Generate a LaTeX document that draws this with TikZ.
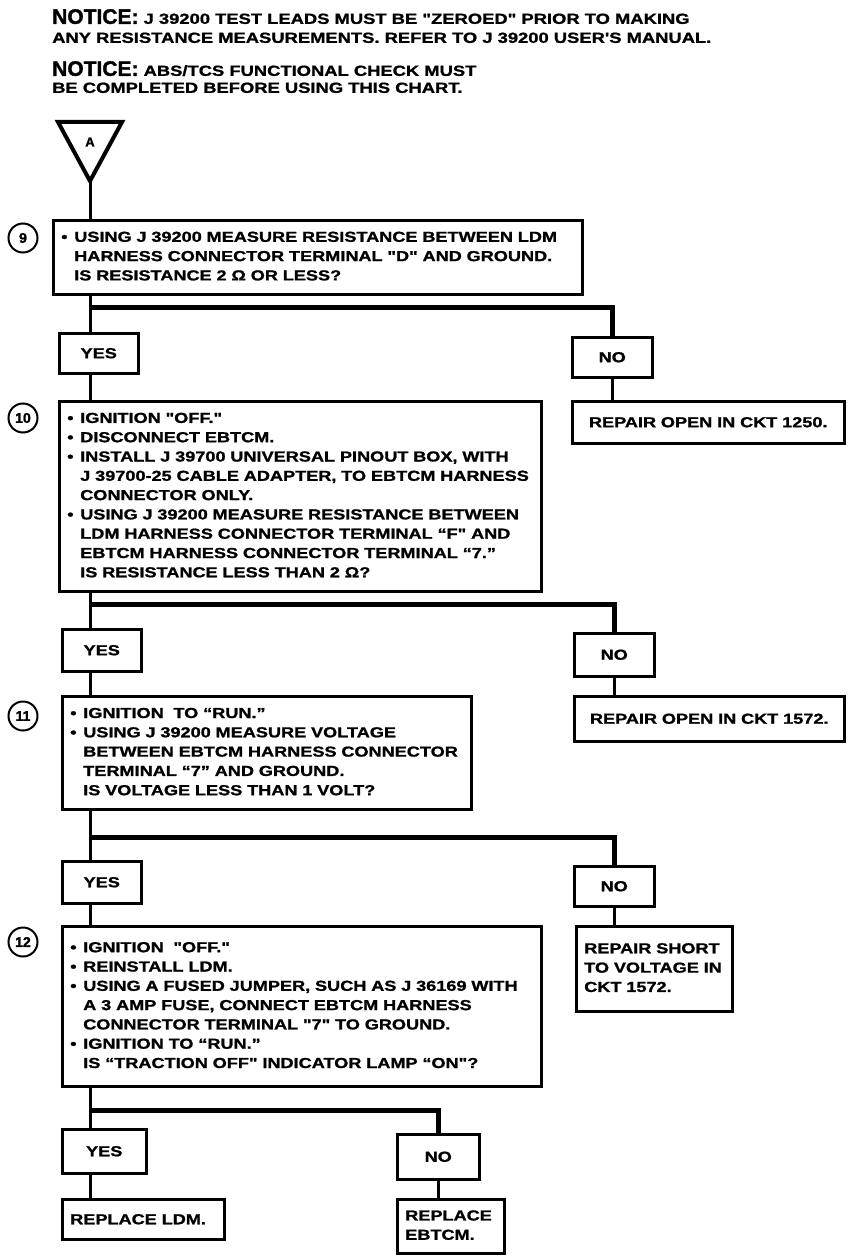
\documentclass[tikz,border=0pt]{standalone}
\usepackage{fontspec}
\newfontfamily\chartfont{Liberation Sans}[FakeStretch=1.25,
  BoldFeatures={FakeStretch=1.25,FakeBold=1.2}]
\newfontfamily\noticefont{Liberation Sans}[BoldFeatures={FakeBold=1.5}]
\usetikzlibrary{positioning,calc}
\tikzstyle{stepbox}=[draw,line width=2.5pt,rectangle,anchor=north west,
  inner xsep=8pt,inner ysep=0pt,align=left,
  font=\chartfont\bfseries\fontsize{14.5}{19.3}\selectfont]
\tikzstyle{repair}=[stepbox,align=center]
\tikzstyle{answer}=[draw,line width=2.5pt,rectangle,anchor=north west,
  inner sep=0pt,font=\chartfont\bfseries\fontsize{14.5}{19}\selectfont]
\tikzstyle{stepnum}=[draw,circle,line width=2pt,minimum size=29pt,inner sep=0pt,
  font=\noticefont\bfseries\fontsize{14}{16}\selectfont]
\tikzstyle{link}=[line width=3pt]
\tikzstyle{branch}=[line width=5pt]
\newcommand{\bul}{\makebox[13pt][l]{\textbullet}}
\newcommand{\ind}{\hspace*{13pt}}
\newcommand{\lines}[1]{\begin{tabular}{@{}l@{}}#1\end{tabular}}

\begin{document}
\begin{tikzpicture}[x=1pt,y=-1pt]
  \useasboundingbox (0,0) rectangle (864,1260);
  % notices
  \node[anchor=north west,inner sep=0pt,align=left,
    font=\chartfont\bfseries\fontsize{14.7}{19}\selectfont] (note1) at (52,9)
    {{\noticefont\fontsize{21}{19}\selectfont NOTICE:} J 39200 TEST LEADS MUST BE "ZEROED" PRIOR TO MAKING\\
     ANY RESISTANCE MEASUREMENTS. REFER TO J 39200 USER'S MANUAL.};
  \node[anchor=north west,inner sep=0pt,align=left,
    font=\chartfont\bfseries\fontsize{14.7}{17}\selectfont] (note2) at (52,61)
    {{\noticefont\fontsize{21}{17}\selectfont NOTICE:} ABS/TCS FUNCTIONAL CHECK MUST\\
     BE COMPLETED BEFORE USING THIS CHART.};

  % entry point
  \coordinate (Atip) at (90,181);
  \draw[line width=4pt,line join=miter] (58,122) -- (122,122) -- (Atip) -- cycle;
  \node[font=\noticefont\bfseries\fontsize{13}{14}\selectfont] (Alab) at (90,142) {A};

  % step 9
  \node[stepnum] (n9) at (23,238) {9};
  \node[stepbox,text width=513pt,minimum height=74pt] (b9) at (52,219)
    {\lines{\bul USING J 39200 MEASURE RESISTANCE BETWEEN LDM\\
      \ind HARNESS CONNECTOR TERMINAL "D" AND GROUND.\\
      \ind IS RESISTANCE 2 Ω OR LESS?}};
  \coordinate (j9) at (90,307);
  \node[answer,minimum width=79pt,minimum height=40pt] (yes1) at (58,332) {YES};
  \node[answer,minimum width=80pt,minimum height=40pt] (no1) at (571,336) {NO};
  \node[repair,text width=256pt,minimum height=42pt] (rep1) at (571,400)
    {REPAIR OPEN IN CKT 1250.};

  % step 10
  \node[stepnum] (n10) at (23,418) {10};
  \node[stepbox,text width=466pt,minimum height=190pt] (b10) at (58,400)
    {\lines{\bul IGNITION "OFF."\\
      \bul DISCONNECT EBTCM.\\
      \bul INSTALL J 39700 UNIVERSAL PINOUT BOX, WITH\\
      \ind J 39700-25 CABLE ADAPTER, TO EBTCM HARNESS\\
      \ind CONNECTOR ONLY.\\
      \bul USING J 39200 MEASURE RESISTANCE BETWEEN\\
      \ind LDM HARNESS CONNECTOR TERMINAL “F" AND\\
      \ind EBTCM HARNESS CONNECTOR TERMINAL “7.”\\
      \ind IS RESISTANCE LESS THAN 2 Ω?}};
  \coordinate (j10) at (90,604);
  \node[answer,minimum width=79pt,minimum height=42pt] (yes2) at (61,628) {YES};
  \node[answer,minimum width=80pt,minimum height=43pt] (no2) at (573,632) {NO};
  \node[repair,text width=254pt,minimum height=45pt] (rep2) at (573,695)
    {REPAIR OPEN IN CKT 1572.};

  % step 11
  \node[stepnum] (n11) at (23,716) {11};
  \node[stepbox,text width=393pt,minimum height=113pt] (b11) at (61,695)
    {\lines{\bul IGNITION\ \ TO “RUN.”\\
      \bul USING J 39200 MEASURE VOLTAGE\\
      \ind BETWEEN EBTCM HARNESS CONNECTOR\\
      \ind TERMINAL “7” AND GROUND.\\
      \ind IS VOLTAGE LESS THAN 1 VOLT?}};
  \coordinate (j11) at (90,837);
  \node[answer,minimum width=79pt,minimum height=42pt] (yes3) at (61,860) {YES};
  \node[answer,minimum width=80pt,minimum height=40pt] (no3) at (573,865) {NO};
  \node[stepbox,text width=140pt,minimum height=85pt] (rep3) at (575,925)
    {\lines{REPAIR SHORT\\TO VOLTAGE IN\\CKT 1572.}};

  % step 12
  \node[stepnum] (n12) at (23,942) {12};
  \node[stepbox,text width=463pt,minimum height=160pt] (b12) at (61,925)
    {\lines{\bul IGNITION\ \ "OFF."\\
      \bul REINSTALL LDM.\\
      \bul USING A FUSED JUMPER, SUCH AS J 36169 WITH\\
      \ind A 3 AMP FUSE, CONNECT EBTCM HARNESS\\
      \ind CONNECTOR TERMINAL "7" TO GROUND.\\
      \bul IGNITION TO “RUN.”\\
      \ind IS “TRACTION OFF" INDICATOR LAMP “ON"?}};
  \coordinate (j12) at (90,1110);
  \node[answer,minimum width=84pt,minimum height=44pt] (yes4) at (61,1128) {YES};
  \node[answer,minimum width=82pt,minimum height=45pt] (no4) at (396,1133) {NO};
  \node[stepbox,text width=146pt,minimum height=40pt] (rep4) at (61,1198)
    {REPLACE LDM.};
  \node[stepbox,text width=91pt,minimum height=54pt] (rep5) at (396,1198)
    {\lines{REPLACE\\EBTCM.}};

  % connectors
  \draw[link] (Atip) -- (Atip |- b9.north);
  \foreach \s/\y/\n/\r/\j in {b9/yes1/no1/rep1/j9, b10/yes2/no2/rep2/j10,
      b11/yes3/no3/rep3/j11, b12/yes4/no4/rep5/j12} {
    \draw[link] (\s.south -| \j) -- (\y.north -| \j);
    \draw[branch] (\j) -| (\n.north);
    \draw[link] (\n.south) -- (\n.south |- \r.north);
  }
  \draw[link] (yes1.south -| j9) -- (b10.north -| j9);
  \draw[link] (yes2.south -| j10) -- (b11.north -| j10);
  \draw[link] (yes3.south -| j11) -- (b12.north -| j11);
  \draw[link] (yes4.south -| j12) -- (rep4.north -| j12);
\end{tikzpicture}
\end{document}
